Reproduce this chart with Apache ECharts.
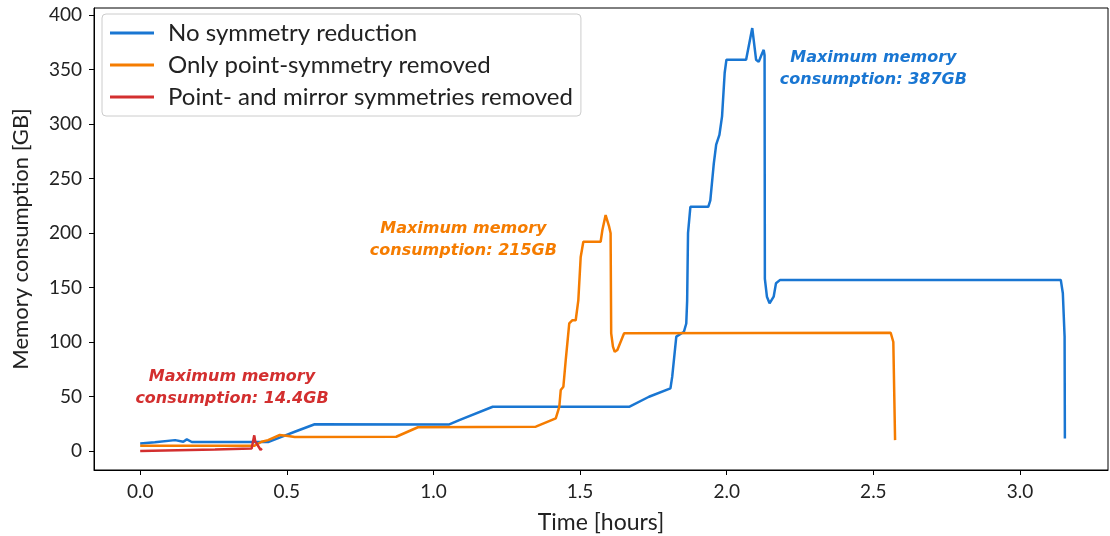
<!DOCTYPE html>
<html>
<head>
<meta charset="utf-8">
<script src="https://cdn.jsdelivr.net/npm/echarts@6/dist/echarts.min.js"></script>
<style>html,body{margin:0;padding:0;background:#fff}#c{width:1110px;height:536px}</style>
</head>
<body>
<div id="c"></div>
<script>
const seriesNames = ['No symmetry reduction', 'Only point-symmetry removed', 'Point- and mirror symmetries removed'];

const blueT = [0, 0.05, 0.119, 0.125, 0.147, 0.159, 0.176, 0.436, 0.482, 0.527, 0.595, 1.054, 1.088, 1.202, 1.667, 1.735, 1.808, 1.814, 1.828, 1.854, 1.862, 1.865, 1.868, 1.876, 1.937, 1.944, 1.956, 1.964, 1.975, 1.984, 1.993, 1.999, 2.066, 2.087, 2.100, 2.109, 2.118, 2.126, 2.129, 2.130, 2.137, 2.146, 2.160, 2.168, 2.182, 3.139, 3.146, 3.152, 3.153];
const blueV = [7, 8, 10, 11.6, 8.5, 10.7, 8.3, 8.3, 13, 17.7, 24.6, 24.4, 28.4, 40.6, 40.6, 49.8, 57.5, 68, 105, 109.4, 117, 138, 200, 224, 224, 230, 264, 281, 290, 307, 347, 359, 359, 388, 359, 357, 363, 368, 363, 158, 141.6, 135.5, 141.6, 154, 157, 157, 144.7, 105, 11.6];

const orangeT = [0, 0.39, 0.414, 0.436, 0.476, 0.504, 0.527, 0.873, 0.947, 1.349, 1.417, 1.429, 1.434, 1.443, 1.451, 1.463, 1.474, 1.485, 1.494, 1.502, 1.511, 1.570, 1.576, 1.587, 1.599, 1.604, 1.606, 1.612, 1.618, 1.627, 1.650, 2.559, 2.568, 2.574];
const orangeV = [4.9, 4.9, 8.5, 10, 14.7, 13.8, 12.8, 13.1, 21.8, 22.3, 30, 40.6, 56, 59, 83.5, 117, 120, 120, 138.5, 178, 192, 192, 202.7, 216.5, 205.8, 199.7, 108, 95.7, 91, 92.7, 108, 108.5, 100, 10];

const redT = [0, 0.255, 0.38, 0.389, 0.392, 0.397, 0.402, 0.406, 0.41, 0.415];
const redV = [0, 1.5, 2.4, 14.4, 9, 7, 8.5, 3, 1, 2.5];

const yTicks = [0, 50, 100, 150, 200, 250, 300, 350, 400];
const xTicks = [0, 0.5, 1.0, 1.5, 2.0, 2.5, 3.0];

const annotations = [
  {x: 2.5, y: 351, text: 'Maximum memory\nconsumption: 387GB'},
  {x: 1.102, y: 194, text: 'Maximum memory\nconsumption: 215GB'},
  {x: 0.313, y: 58, text: 'Maximum memory\nconsumption: 14.4GB'}
];

const colors = ['#1976D2', '#F57C00', '#D32F2F'];
const FONT = 'Lato';

function zip(t, v) { return t.map((x, i) => [x, v[i]]); }
const dataSets = [zip(blueT, blueV), zip(orangeT, orangeV), zip(redT, redV)];

const chart = echarts.init(document.getElementById('c'), null, {renderer: 'canvas'});
chart.setOption({
  animation: false,
  backgroundColor: '#fff',
  color: colors,
  grid: {left: 94, right: 2, top: 8, bottom: 66, outerBoundsMode: 'none', containLabel: false, show: true, borderColor: '#000', borderWidth: 1, backgroundColor: 'transparent'},
  legend: {
    orient: 'vertical', left: 102, top: 14,
    data: seriesNames,
    icon: 'rect', itemWidth: 44, itemHeight: 3, itemGap: 8,
    padding: [7, 8, 7, 8],
    borderColor: '#ccc', borderWidth: 1, borderRadius: 4,
    backgroundColor: 'rgba(255,255,255,0.85)',
    textStyle: {fontFamily: FONT, fontSize: 24, lineHeight: 24, color: '#222', padding: [0, 0, 0, 9]}
  },
  xAxis: {
    type: 'value', min: -0.1575, max: 3.3,
    name: 'Time [hours]', nameLocation: 'middle', nameGap: 41,
    nameTextStyle: {fontFamily: FONT, fontSize: 23, color: '#222'},
    axisLine: {show: true, onZero: false, lineStyle: {color: '#000'}},
    axisTick: {show: true, inside: false, length: 5, customValues: xTicks, lineStyle: {color: '#000'}},
    axisLabel: {customValues: xTicks, formatter: v => v.toFixed(1), fontFamily: FONT, fontSize: 19, color: '#222', margin: 12},
    splitLine: {show: false}
  },
  yAxis: {
    type: 'value', min: -17.4, max: 406.4,
    name: 'Memory consumption [GB]', nameLocation: 'middle', nameGap: 62, nameRotate: 90,
    nameTextStyle: {fontFamily: FONT, fontSize: 22, color: '#222'},
    axisLine: {show: true, onZero: false, lineStyle: {color: '#000'}},
    axisTick: {show: true, inside: false, length: 5, customValues: yTicks, lineStyle: {color: '#000'}},
    axisLabel: {customValues: yTicks, fontFamily: FONT, fontSize: 19, color: '#222', margin: 12},
    splitLine: {show: false}
  },
  series: seriesNames.map((name, i) => ({
    name: name, type: 'line', data: dataSets[i],
    showSymbol: false, symbol: 'none', z: 3 + i,
    lineStyle: {width: 2.5, color: colors[i]},
    markPoint: {
      symbol: 'circle', symbolSize: 0,
      label: {show: true, position: 'inside', formatter: annotations[i].text, color: colors[i],
        fontFamily: 'DejaVu Sans', fontSize: 16, fontWeight: 'bold', fontStyle: 'italic', lineHeight: 22, align: 'center'},
      data: [{coord: [annotations[i].x, annotations[i].y]}]
    }
  }))
});
</script>
</body>
</html>
